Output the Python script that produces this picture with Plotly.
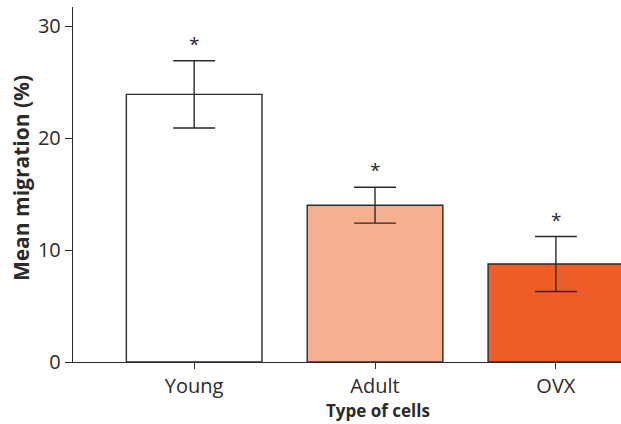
import plotly.graph_objects as go

categories = ["Young", "Adult", "OVX"]
means = [23.9, 14.0, 8.75]
errors = [3.0, 1.6, 2.45]
colors = ["#FFFFFF", "#F6AF8F", "#EE5C28"]
y_ticks = [0, 10, 20, 30]

FONT = "Open Sans"
INK = "#2b2b2b"
fig = go.Figure()
fig.add_trace(go.Bar(
    x=categories, y=means, width=0.75,
    marker=dict(color=colors, line=dict(color=INK, width=1.4)),
    error_y=dict(type="data", array=errors, visible=True, color=INK,
                 thickness=1.4, width=21),
))
for c, m, e in zip(categories, means, errors):
    fig.add_annotation(x=c, y=m + e, text="*", showarrow=False, yshift=17,
                       font=dict(family=FONT, size=19, color=INK))

fig.add_annotation(xref="paper", yref="paper", x=0, xshift=305, y=0, yshift=-48,
                   xanchor="center", yanchor="middle", showarrow=False,
                   text="<b>Type of cells</b>", font=dict(family=FONT, size=17, color=INK))
fig.add_annotation(xref="paper", yref="paper", x=0, xshift=-52, y=0.518,
                   xanchor="center", yanchor="middle", showarrow=False, textangle=-90,
                   text="<b>Mean migration (%)</b>", font=dict(family=FONT, size=21, color=INK))

fig.update_layout(
    width=621, height=424,
    margin=dict(l=73, r=0, t=7, b=62),
    plot_bgcolor="white", paper_bgcolor="white",
    showlegend=False,
    font=dict(family=FONT, color=INK),
    xaxis=dict(range=[-0.67, 2.36], showline=True, linecolor=INK, linewidth=1.4,
               ticks="outside", ticklen=6, tickcolor=INK, tickwidth=1.4, automargin=False,
               tickfont=dict(size=20, family=FONT, color=INK)),
    yaxis=dict(range=[0, 31.7], showline=True, linecolor=INK, linewidth=1.4,
               ticks="outside", ticklen=7, tickcolor=INK, tickwidth=1.4, automargin=False,
               tickvals=y_ticks, showgrid=False, zeroline=False,
               tickfont=dict(size=20, family=FONT, color=INK)),
)
fig.write_html("out.html", config={"displayModeBar": False},
               post_script="document.body.style.margin='0';")
